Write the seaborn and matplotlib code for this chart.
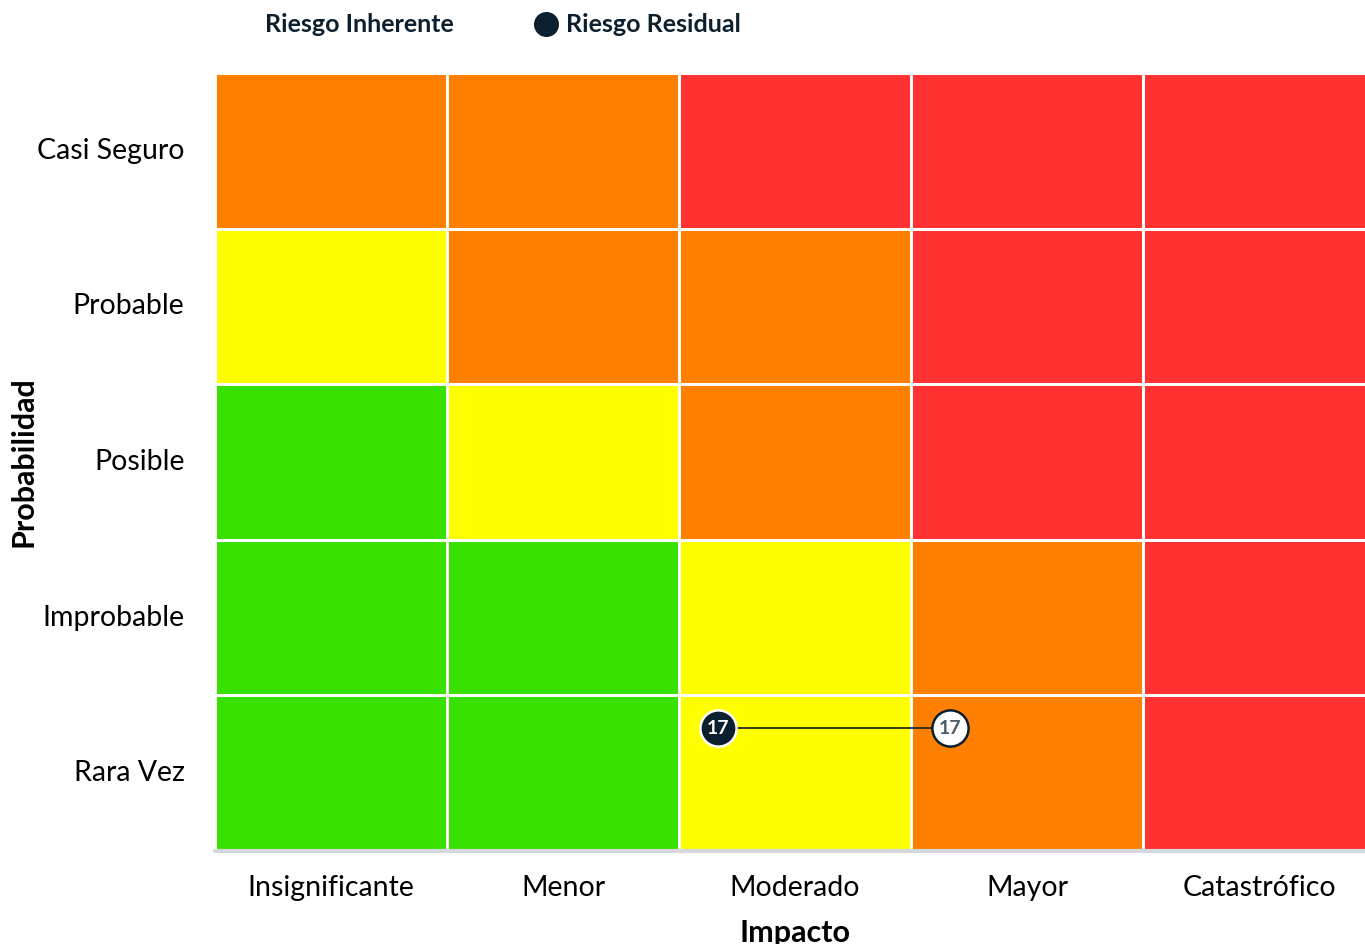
import matplotlib
matplotlib.use("Agg")
import matplotlib.pyplot as plt
from matplotlib.colors import ListedColormap
from matplotlib.lines import Line2D
import numpy as np
import pandas as pd
import seaborn as sns

# risk matrix data
impact = ["Insignificante", "Menor", "Moderado", "Mayor", "Catastrófico"]
probability = ["Casi Seguro", "Probable", "Posible", "Improbable", "Rara Vez"]
# 1 = bajo (verde), 2 = medio (amarillo), 3 = alto (naranja), 4 = extremo (rojo)
levels = [
    [3, 3, 4, 4, 4],
    [2, 3, 3, 4, 4],
    [1, 2, 3, 4, 4],
    [1, 1, 2, 3, 4],
    [1, 1, 2, 3, 4],
]
level_colors = ["#39E100", "#FFFF00", "#FF8000", "#FF3131"]

risk_id = "17"
inherent_impact, inherent_prob = "Mayor", "Rara Vez"
residual_impact, residual_prob = "Moderado", "Rara Vez"

dark = "#0B1F2E"

sns.set_theme(style="white")
plt.rcParams['font.family'] = ['Lato', 'DejaVu Sans']

df = pd.DataFrame(levels, index=probability, columns=impact)

fig = plt.figure(figsize=(13.65, 9.44), dpi=100)
# last column runs a bit past the right edge, as in the original
ax = fig.add_axes([215 / 1365, 1 - 851 / 944, 1160 / 1365, 778 / 944])

sns.heatmap(df, cmap=ListedColormap(level_colors), vmin=0.5, vmax=4.5,
            cbar=False, linewidths=1.0, linecolor="white", ax=ax)

# marker positions inside the cell (offset towards upper-left)
dx, dy = 0.17, 0.21
xi = impact.index(inherent_impact) + dx
yi = probability.index(inherent_prob) + dy
xr = impact.index(residual_impact) + dx
yr = probability.index(residual_prob) + dy

ax.plot([xr, xi], [yr, yi], color=dark, lw=1.2, zorder=3)
ax.scatter([xi], [yi], s=680, color="white", edgecolor=dark, linewidth=1.8, zorder=4)
ax.scatter([xr], [yr], s=680, color=dark, edgecolor="white", linewidth=1.8, zorder=4)
ax.text(xi, yi, risk_id, ha="center", va="center", fontsize=14,
        fontweight="bold", color="#4A5A68", zorder=5)
ax.text(xr, yr, risk_id, ha="center", va="center", fontsize=14,
        fontweight="bold", color="white", zorder=5)

ax.set_xlabel("Impacto", fontsize=22, fontweight="bold", color="black", labelpad=13)
ax.set_ylabel("Probabilidad", fontsize=22, fontweight="bold", color="black")
ax.yaxis.set_label_coords(-0.153, 0.5)
ax.tick_params(axis="y", length=0, labelsize=20.5, colors="black", pad=22)
ax.tick_params(axis="x", length=0, labelsize=20.5, colors="black", pad=17)
plt.setp(ax.get_yticklabels(), rotation=0)
plt.setp(ax.get_xticklabels(), rotation=0)
ax.axhline(len(probability), color="#D5D9DD", lw=3, clip_on=False)

handles = [
    Line2D([], [], marker="o", linestyle="none", markersize=0, color="white"),
    Line2D([], [], marker="o", linestyle="none", markersize=17, color=dark),
]
fig.legend(handles, ["Riesgo Inherente", "Riesgo Residual"], loc="center",
           bbox_to_anchor=(487 / 1365, 1 - 25 / 944), ncol=2, frameon=False,
           prop={"size": 18, "weight": "bold"}, labelcolor=dark,
           handletextpad=0.3, columnspacing=3.2, handlelength=1.0)

fig.savefig("out.png", dpi=100)
